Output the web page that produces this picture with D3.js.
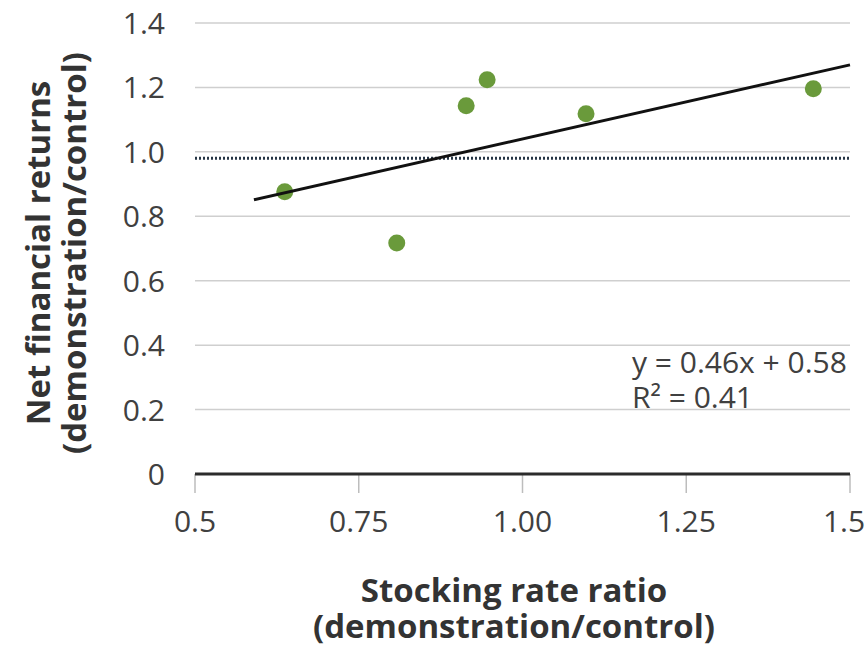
<!DOCTYPE html>
<html>
  <head>
    <meta charset="utf-8">
    <title>Stocking rate vs net returns</title>
    <script src="https://d3js.org/d3.v7.min.js"></script>
    <style>
      body { margin: 0; background: #fff; }
      text { font-family: "Open Sans", "Noto Sans", sans-serif; }
    </style>
  </head>
  <body>
    <script>
      // stocking rate ratio vs net financial returns (demonstration/control)
      const stockingRatio = [0.637, 0.808, 0.914, 0.946, 1.097, 1.444];
      const netReturns = [0.876, 0.717, 1.143, 1.224, 1.118, 1.196];
      const xTicks = [0.5, 0.75, 1.0, 1.25, 1.5];
      const xTickLabels = ["0.5", "0.75", "1.00", "1.25", "1.5"];
      const yTicks = [0, 0.2, 0.4, 0.6, 0.8, 1.0, 1.2, 1.4];
      const yTickLabels = ["0", "0.2", "0.4", "0.6", "0.8", "1.0", "1.2", "1.4"];
      const trendSlope = 0.46, trendIntercept = 0.58;
      const trendRange = [0.59, 1.5];
      const referenceLevel = 0.98;
      const equationLines = ["y = 0.46x + 0.58", "R² = 0.41"];

      const width = 866, height = 651;
      const svg = d3.select("body").append("svg")
          .attr("width", width)
          .attr("height", height);

      const x = d3.scaleLinear().domain([0.5, 1.5]).range([195, 850]);
      const y = d3.scaleLinear().domain([0, 1.4]).range([474, 23]);

      // horizontal gridlines
      svg.append("g").selectAll("line")
        .data(yTicks.filter(d => d > 0))
        .join("line")
          .attr("x1", x(0.5)).attr("x2", x(1.5))
          .attr("y1", d => y(d)).attr("y2", d => y(d))
          .attr("stroke", "#cfcfcf")
          .attr("stroke-width", 1.5);

      // y tick labels
      svg.append("g").selectAll("text")
        .data(yTicks)
        .join("text")
          .attr("x", 165)
          .attr("y", d => y(d) + 11)
          .attr("text-anchor", "end")
          .attr("font-size", 30)
          .attr("fill", "#404040")
          .text((d, i) => yTickLabels[i]);

      // x axis ticks
      svg.append("g").selectAll("line")
        .data(xTicks)
        .join("line")
          .attr("x1", d => x(d)).attr("x2", d => x(d))
          .attr("y1", y(0)).attr("y2", y(0) + 19)
          .attr("stroke", "#bdbdbd")
          .attr("stroke-width", 1.5);

      // labels kept inside the page at the right edge
      svg.append("g").selectAll("text")
        .data(xTicks)
        .join("text")
          .attr("x", d => Math.min(x(d), width - 22))
          .attr("y", 532)
          .attr("text-anchor", "middle")
          .attr("font-size", 30)
          .attr("fill", "#404040")
          .text((d, i) => xTickLabels[i]);

      // zero axis line
      svg.append("line")
          .attr("x1", x(0.5)).attr("x2", x(1.5))
          .attr("y1", y(0)).attr("y2", y(0))
          .attr("stroke", "#2b2b2b")
          .attr("stroke-width", 3);

      // dotted reference line
      svg.append("line")
          .attr("x1", x(0.5)).attr("x2", x(1.5))
          .attr("y1", y(referenceLevel)).attr("y2", y(referenceLevel))
          .attr("stroke", "#253545")
          .attr("stroke-width", 3)
          .attr("stroke-dasharray", "2,2");

      // points
      svg.append("g").selectAll("circle")
        .data(stockingRatio)
        .join("circle")
          .attr("cx", d => x(d))
          .attr("cy", (d, i) => y(netReturns[i]))
          .attr("r", 8.5)
          .attr("fill", "#6a9a3b");

      // linear trendline
      const line = d3.line().x(d => x(d)).y(d => y(trendSlope * d + trendIntercept));
      svg.append("path")
          .datum(trendRange)
          .attr("d", line)
          .attr("fill", "none")
          .attr("stroke", "#111")
          .attr("stroke-width", 3);

      // equation
      svg.append("g").selectAll("text")
        .data(equationLines)
        .join("text")
          .attr("x", 632)
          .attr("y", (d, i) => 373 + i * 35)
          .attr("font-size", 30)
          .attr("fill", "#404040")
          .text(d => d);

      // axis titles
      const xTitle = svg.append("text")
          .attr("text-anchor", "middle")
          .attr("font-size", 33)
          .attr("font-weight", "bold")
          .attr("fill", "#333");
      xTitle.append("tspan").attr("x", 514).attr("y", 602).text("Stocking rate ratio");
      xTitle.append("tspan").attr("x", 514).attr("y", 638).text("(demonstration/control)");

      const yTitle = svg.append("text")
          .attr("transform", "translate(0,253) rotate(-90)")
          .attr("text-anchor", "middle")
          .attr("font-size", 33)
          .attr("font-weight", "bold")
          .attr("fill", "#333");
      yTitle.append("tspan").attr("x", 0).attr("y", 50).text("Net financial returns");
      yTitle.append("tspan").attr("x", 0).attr("y", 86).text("(demonstration/control)");
    </script>
  </body>
</html>
